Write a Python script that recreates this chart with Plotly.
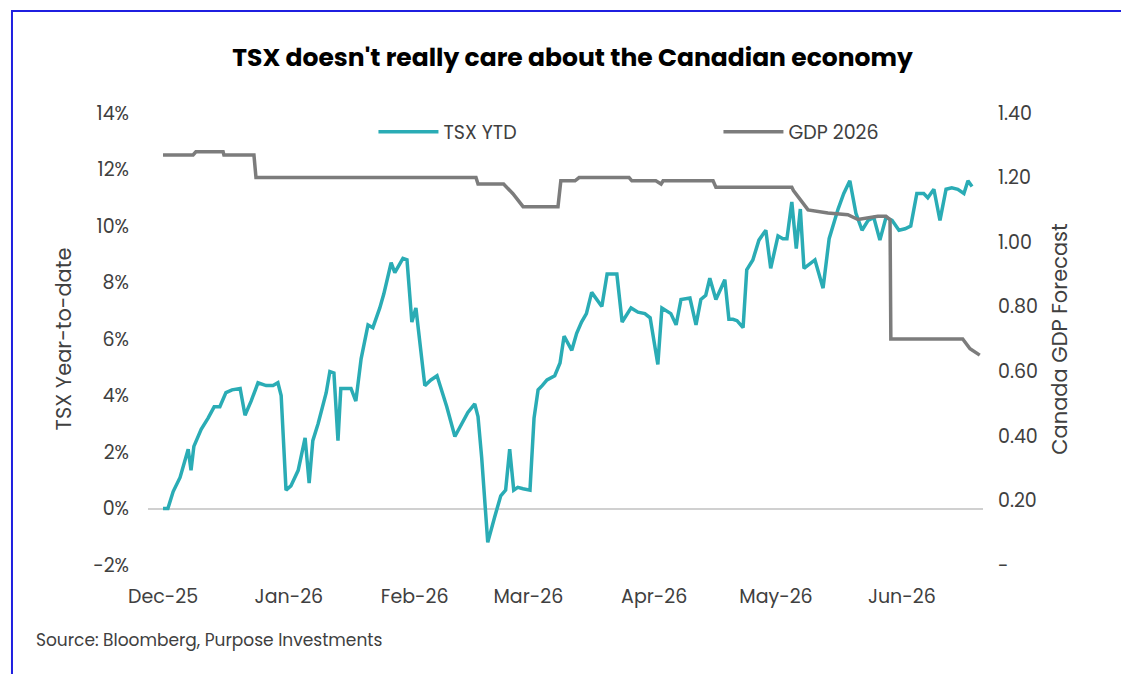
import pandas as pd
import plotly.graph_objects as go

# -----------------------------
# Data, days counted from 2025-12-01
# -----------------------------
tsx_day = [0, 1.2, 2.5, 4.2, 6.2, 6.9, 7.6, 9.4, 11.1, 12.6, 14.0, 15.5, 17.0, 19.0,
           20.2, 21.7, 23.4, 25.4, 27.1, 28.3, 29.1, 30.3, 31.5, 33.3, 35.0, 36.0,
           36.9, 38.2, 40.2, 41.1, 42.1, 43.1, 43.8, 46.3, 47.5, 48.8, 50.5, 51.7,
           53.4, 54.4, 56.2, 57.1, 59.1, 60.1, 61.3, 62.3, 64.5, 66.0, 67.5, 69.9,
           71.9, 75.1, 76.8, 77.6, 78.5, 80.0, 81.7, 83.2, 84.4, 85.4, 86.4, 87.4,
           88.7, 90.4, 91.4, 92.4, 93.4, 94.6, 96.5, 97.8, 98.8, 100.7, 101.9, 103.1,
           104.3, 105.6, 108.1, 109.4, 110.6, 111.8, 113.1, 115.3, 117.0, 118.7,
           120.0, 121.9, 122.9, 125.1, 126.4, 127.6, 129.8, 131.3, 132.5, 133.7,
           134.7, 136.2, 138.4, 139.4, 140.4, 141.4, 142.9, 143.8, 145.3, 146.8,
           148.5, 149.7, 151.5, 152.7, 153.7, 154.9, 156.0, 157.0, 157.9, 159.1,
           160.6, 162.6, 164.1, 166.3, 167.7, 169.2, 170.7, 172.2, 173.7, 175.1,
           176.6, 178.1, 179.6, 181.3, 182.8, 184.2, 185.7, 187.4, 188.4, 189.9,
           191.4, 192.9, 194.3, 195.8, 197.3, 198.3, 199.3]
tsx_val = [0.0, 0.0, 0.6, 1.1, 2.1, 1.35, 2.2, 2.8, 3.2, 3.6, 3.6, 4.1, 4.2, 4.25,
           3.3, 3.8, 4.45, 4.35, 4.35, 4.45, 4.0, 0.65, 0.8, 1.35, 2.5, 0.9, 2.4,
           3.0, 4.1, 4.85, 4.8, 2.4, 4.25, 4.25, 3.8, 5.3, 6.5, 6.4, 7.1, 7.6, 8.7,
           8.35, 8.85, 8.8, 6.6, 7.1, 4.35, 4.55, 4.7, 3.6, 2.55, 3.4, 3.7, 3.25,
           1.8, -1.2, -0.3, 0.45, 0.65, 2.1, 0.65, 0.75, 0.7, 0.65, 3.2, 4.2, 4.35,
           4.55, 4.7, 5.15, 6.1, 5.6, 6.2, 6.6, 6.9, 7.65, 7.15, 8.3, 8.3, 8.3, 6.6,
           7.1, 6.95, 6.9, 6.75, 5.1, 7.1, 6.9, 6.5, 7.4, 7.45, 6.5, 7.4, 7.55, 8.15,
           7.4, 8.1, 6.7, 6.7, 6.65, 6.4, 8.45, 8.8, 9.5, 9.85, 8.5, 9.65, 9.55, 9.55,
           10.85, 9.2, 10.6, 8.5, 8.65, 8.8, 7.8, 9.55, 10.6, 11.15, 11.6, 10.45,
           9.85, 10.2, 10.3, 9.5, 10.3, 10.2, 9.85, 9.9, 10.0, 11.15, 11.15, 11.0,
           11.3, 10.2, 11.3, 11.35, 11.3, 11.15, 11.6, 11.4, 11.0]

gdp_day = [0, 7.4, 8.1, 14.8, 15.0, 22.4, 22.9, 77.1, 77.6, 83.7, 83.9, 86.2, 88.7,
           97.3, 98.0, 101.5, 102.5, 114.8, 115.5, 121.4, 122.7, 123.2, 135.5, 136.2,
           143.6, 144.3, 154.9, 155.3, 156.5, 158.9, 163.8, 168.7, 171.2, 176.1, 178.1,
           179.1, 179.3, 195.8, 197.0, 198.8, 201.2]
gdp_val = [1.27, 1.27, 1.28, 1.28, 1.27, 1.27, 1.20, 1.20, 1.18, 1.18, 1.18, 1.15,
           1.11, 1.11, 1.19, 1.19, 1.20, 1.20, 1.19, 1.19, 1.18, 1.19, 1.19, 1.17,
           1.17, 1.17, 1.17, 1.16, 1.14, 1.10, 1.09, 1.085, 1.07, 1.08, 1.08, 1.07,
           0.70, 0.70, 0.70, 0.67, 0.65]

month_ticks = ["2025-12-01", "2026-01-01", "2026-02-01", "2026-03-01",
               "2026-04-01", "2026-05-01", "2026-06-01"]
month_labels = ["Dec-25", "Jan-26", "Feb-26", "Mar-26", "Apr-26", "May-26", "Jun-26"]

start = pd.Timestamp("2025-12-01")
tsx_x = [start + pd.Timedelta(days=d) for d in tsx_day]
gdp_x = [start + pd.Timedelta(days=d) for d in gdp_day]

TEAL = "#2aacb5"
GREY = "#7c7c7c"
FONT = "Poppins, Inter, Open Sans, sans-serif"

fig = go.Figure()
fig.add_scatter(x=tsx_x, y=tsx_val, mode="lines", name="TSX YTD",
                line=dict(color=TEAL, width=3.5))
fig.add_scatter(x=gdp_x, y=gdp_val, mode="lines", name="GDP 2026", yaxis="y2",
                line=dict(color=GREY, width=3.5))

fig.update_layout(
    width=1129, height=674,
    paper_bgcolor="white", plot_bgcolor="white",
    margin=dict(l=140, r=154, t=105, b=117, autoexpand=False),
    font=dict(family=FONT, size=19, color="#404040"),
    title=dict(text="<b>TSX doesn't really care about the Canadian economy</b>",
               x=0.5, xanchor="center", y=0.94, font=dict(size=25, color="black")),
    showlegend=True,
    legend=dict(orientation="h", x=0.27, y=1.0, yanchor="top",
                bgcolor="rgba(0,0,0,0)",
                font=dict(size=19), itemwidth=60, entrywidth=270),
    xaxis=dict(range=[start - pd.Timedelta(days=3.7), start + pd.Timedelta(days=202)],
               tickvals=month_ticks, ticktext=month_labels, showgrid=False,
               showline=False, ticks="", ticklabelstandoff=18, automargin=False),
    yaxis=dict(range=[-2, 14], tickvals=list(range(-2, 15, 2)),
               ticktext=[f"{v}%" for v in range(-2, 15, 2)], showgrid=False,
               zeroline=True, zerolinecolor="#d0d0d0", zerolinewidth=1.5,
               title=dict(text="TSX Year-to-date", font=dict(size=21)),
               ticklabelstandoff=18, automargin=False),
    yaxis2=dict(range=[0, 1.4], overlaying="y", side="right", showgrid=False,
                zeroline=False,
                tickvals=[0, 0.2, 0.4, 0.6, 0.8, 1.0, 1.2, 1.4],
                ticktext=["-", "0.20", "0.40", "0.60", "0.80", "1.00", "1.20", "1.40"],
                title=dict(text="Canada GDP Forecast", font=dict(size=21)),
                ticklabelstandoff=14, automargin=False),
)

fig.add_annotation(text="Source: Bloomberg, Purpose Investments", xref="paper",
                   yref="paper", x=-0.137, y=-0.165, xanchor="left", yanchor="middle",
                   showarrow=False, font=dict(size=17, color="#404040"))

fig.add_shape(type="rect", xref="paper", yref="paper", x0=-0.1629, x1=1.1796,
              y0=-0.25, y1=1.2257, line=dict(color="#1f1fe0", width=2))

fig.write_html("out.html")
